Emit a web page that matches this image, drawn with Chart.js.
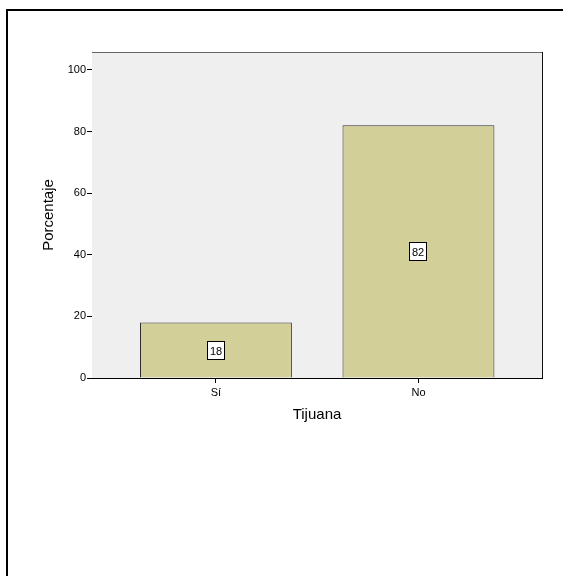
<!DOCTYPE html>
<html>
<head>
<meta charset="utf-8">
<script src="https://cdn.jsdelivr.net/npm/chart.js@4/dist/chart.umd.min.js"></script>
<style>
  html, body { margin: 0; padding: 0; background: #fff; }
  #wrap { position: relative; width: 563px; height: 576px; overflow: hidden; }
  #frame { position: absolute; left: 6px; top: 9px; width: 600px; height: 600px;
           border-left: 2px solid #000; border-top: 2px solid #000; }
  #chart { position: absolute; left: 0; top: 0; }
</style>
</head>
<body>
<div id="wrap">
  <div id="frame"></div>
  <canvas id="chart" width="563" height="576"></canvas>
</div>
<script>
const categories = ['Sí', 'No'];
const values = [18, 82];
const yTicks = [0, 20, 40, 60, 80, 100];
const yTitle = 'Porcentaje';
const xTitle = 'Tijuana';

const FONT = '"Liberation Sans", Arial, sans-serif';

// grey plot background + top/right edges
const plotBox = {
  id: 'plotBox',
  beforeDatasetsDraw(chart){
    const a = chart.chartArea, ctx = chart.ctx;
    ctx.save();
    ctx.fillStyle = '#efefef';
    ctx.fillRect(a.left, a.top, a.right - a.left, a.bottom - a.top);
    ctx.lineWidth = 1;
    ctx.strokeStyle = '#666';
    ctx.beginPath();
    ctx.moveTo(a.left, a.top + 0.5);
    ctx.lineTo(a.right, a.top + 0.5);
    ctx.stroke();
    ctx.strokeStyle = '#111';
    ctx.beginPath();
    ctx.moveTo(a.right + 0.5, a.top);
    ctx.lineTo(a.right + 0.5, a.bottom);
    ctx.stroke();
    ctx.restore();
  }
};

// boxed value labels in the middle of each bar
const boxLabels = {
  id: 'boxLabels',
  afterDatasetsDraw(chart){
    const ctx = chart.ctx;
    const meta = chart.getDatasetMeta(0);
    ctx.save();
    ctx.font = '11px ' + FONT;
    ctx.textAlign = 'center';
    ctx.textBaseline = 'middle';
    meta.data.forEach((el, i) => {
      const txt = String(values[i]);
      const cx = Math.round(el.x);
      const cy = Math.round((el.y + el.base) / 2) + 1;
      const w = Math.round(ctx.measureText(txt).width) + 6;
      const h = 19;
      const x0 = cx - Math.round(w / 2), y0 = cy - Math.round(h / 2);
      ctx.fillStyle = '#fff';
      ctx.fillRect(x0, y0, w, h);
      ctx.strokeStyle = '#000';
      ctx.lineWidth = 1;
      ctx.strokeRect(x0 + 0.5, y0 + 0.5, w - 1, h - 1);
      ctx.fillStyle = '#000';
      ctx.fillText(txt, cx, cy + 1);
    });
    ctx.restore();
  }
};

new Chart(document.getElementById('chart'), {
  type: 'bar',
  data: {
    datasets: [{
      data: values.map((v, i) => ({ x: i, y: v })),
      backgroundColor: '#d3cf98',
      borderColor: '#2e2e2e',
      borderWidth: 1,
      categoryPercentage: 0.75,
      barPercentage: 1
    }]
  },
  options: {
    responsive: false,
    animation: false,
    layout: { padding: { top: 52, right: 21, left: 0, bottom: 0 } },
    plugins: { legend: { display: false }, tooltip: { enabled: false } },
    scales: {
      x: {
        type: 'linear',
        offset: false,
        min: -0.612,
        max: 1.61,
        afterBuildTicks(scale){ scale.ticks = categories.map((c, i) => ({ value: i })); },
        afterFit(scale){ scale.height = 198; },
        ticks: {
          callback: (v) => categories[v],
          font: { family: FONT, size: 11 },
          color: '#000',
          padding: 3,
          maxRotation: 0
        },
        grid: { offset: false, drawOnChartArea: false, tickLength: 5, tickColor: '#000' },
        border: { color: '#000', width: 1 },
        title: {
          display: true, text: xTitle, color: '#000',
          font: { family: FONT, size: 15 },
          padding: { top: 0, bottom: 152 }
        }
      },
      y: {
        min: 0,
        max: 105.8,
        afterBuildTicks(scale){ scale.ticks = yTicks.map(v => ({ value: v })); },
        afterFit(scale){ scale.width = 92; },
        ticks: {
          font: { family: FONT, size: 11 },
          color: '#000',
          padding: 1
        },
        grid: { drawOnChartArea: false, tickLength: 5, tickColor: '#000' },
        border: { color: '#000', width: 1 },
        title: {
          display: true, text: yTitle, color: '#000',
          font: { family: FONT, size: 15 },
          padding: { top: 40, bottom: 0 }
        }
      }
    }
  },
  plugins: [plotBox, boxLabels]
});
</script>
</body>
</html>
